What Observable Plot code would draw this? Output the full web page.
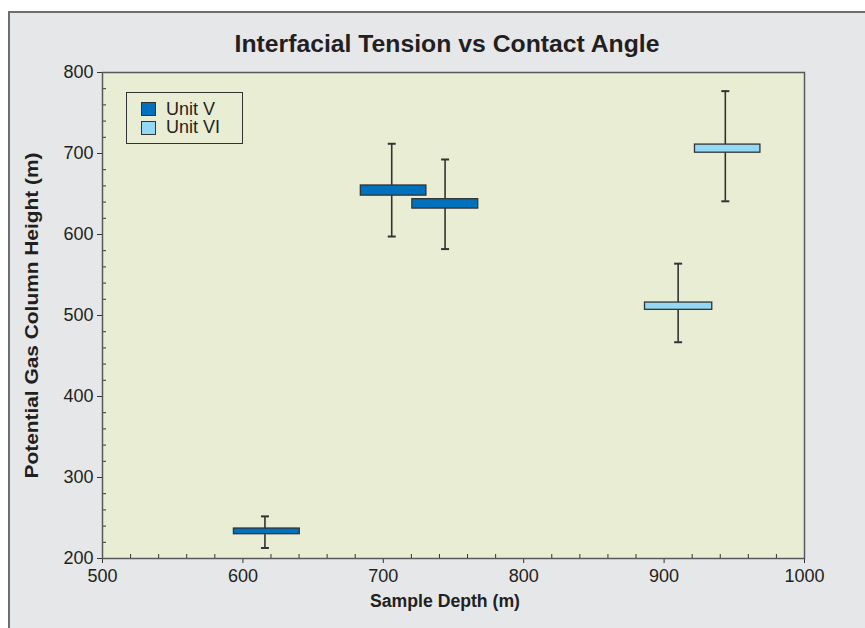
<!DOCTYPE html>
<html>
<head>
<meta charset="utf-8">
<script src="https://cdn.jsdelivr.net/npm/d3@7"></script>
<script src="https://cdn.jsdelivr.net/npm/@observablehq/plot@0.6"></script>
<style>
  body { margin: 0; background: #fff; }
  #wrap { position: relative; width: 865px; height: 628px; overflow: hidden; }
  #panel { position: absolute; left: 8px; top: 11px; right: -4px; bottom: -4px; background: #e6e7e9; border-left: 2px solid #6d6e71; border-top: 2px solid #6d6e71; }
  #title { position: absolute; left: 0; width: 865px; top: 31px; height: 30px; }
  #titleText { position: absolute; left: 447px; top: 0; white-space: nowrap; font: bold 23px "Liberation Sans", Arial, sans-serif; color: #231f20; transform-origin: 0 0; }
  #chart { position: absolute; left: 0; top: 0; }
  #legend { position: absolute; box-sizing: border-box; left: 126px; top: 92px; width: 117px; height: 52px; border: 1.5px solid #333; background: #e9edd4; font: 18px "Liberation Sans", Arial, sans-serif; color: #231f20; }
  .sw { position: absolute; box-sizing: border-box; left: 13.5px; width: 15px; height: 14px; border: 1.2px solid #333; }
  .lbl { position: absolute; left: 39px; line-height: 18px; white-space: nowrap; }
</style>
</head>
<body>
<div id="wrap">
  <div id="panel"></div>
  <div id="title"><span id="titleText"></span></div>
  <div id="chart"></div>
  <div id="legend"></div>
</div>
<script>
// ---- data ----
const units      = ["Unit V", "Unit V", "Unit V", "Unit VI", "Unit VI"];
const depthMin   = [593.6, 684.0, 720.7, 886.4, 922.0];
const depthMax   = [640.5, 730.7, 767.6, 934.3, 968.6];
const depthMid   = [615.7, 706.0, 744.0, 910.0, 943.6];
const boxLow     = [230.0, 648.0, 632.0, 507.0, 701.0];
const boxHigh    = [237.0, 660.5, 643.6, 516.0, 711.0];
const errLow     = [213.0, 597.5, 582.0, 467.0, 641.0];
const errHigh    = [252.0, 712.0, 692.6, 564.0, 777.0];

const seriesNames  = ["Unit V", "Unit VI"];
const seriesColors = ["#0071bc", "#93d8f5"];
const xTicks = [500, 600, 700, 800, 900, 1000];
const yTicks = [200, 300, 400, 500, 600, 700, 800];
const xMinor = d3.range(500, 1001, 20).filter(v => !xTicks.includes(v));
const yMinor = d3.range(200, 801, 20).filter(v => !yTicks.includes(v));
const titleText = "Interfacial Tension vs Contact Angle";
const xLabel = "Sample Depth (m)";
const yLabel = "Potential Gas Column Height (m)";

const rows = units.map((u, i) => ({
  unit: u, x1: depthMin[i], x2: depthMax[i], xm: depthMid[i],
  y1: boxLow[i], y2: boxHigh[i], e1: errLow[i], e2: errHigh[i]
}));

const capSymbol = {
  draw(ctx, size) {
    const w = Math.sqrt(size);
    ctx.moveTo(-w / 2, 0);
    ctx.lineTo(w / 2, 0);
  }
};

const font = '"Liberation Sans", Arial, sans-serif';

const chart = Plot.plot({
  width: 865,
  height: 628,
  marginLeft: 102,
  marginRight: 61,
  marginTop: 72,
  marginBottom: 70,
  x: { domain: [500, 1000] },
  y: { domain: [200, 800] },
  color: { domain: seriesNames, range: seriesColors },
  style: { background: "none", fontFamily: font, fontSize: "18px", color: "#231f20", overflow: "visible" },
  marks: [
    Plot.frame({ fill: "#e9edd4" }),
    Plot.axisX({ ticks: xMinor, tickSize: -4, text: null, label: null, stroke: "#333" }),
    Plot.axisY({ ticks: yMinor, tickSize: -4, text: null, label: null, stroke: "#333" }),
    Plot.axisX({ ticks: xTicks, tickSize: 5, tickPadding: 6, tickFormat: d => String(d), label: null, stroke: "#333", fill: "#231f20", fontSize: 18, fontFamily: font }),
    Plot.axisY({ ticks: yTicks, tickSize: 5, tickPadding: 4, tickFormat: d => String(d), label: null, stroke: "#333", fill: "#231f20", fontSize: 18, fontFamily: font }),
    Plot.frame({ stroke: "#58595b", strokeWidth: 1.5 }),
    Plot.ruleX(rows, { x: "xm", y1: "e1", y2: "e2", stroke: "#333", strokeWidth: 1.6 }),
    Plot.dot(rows, { x: "xm", y: "e1", symbol: capSymbol, r: 4.5, stroke: "#333", fill: "none", strokeWidth: 2 }),
    Plot.dot(rows, { x: "xm", y: "e2", symbol: capSymbol, r: 4.5, stroke: "#333", fill: "none", strokeWidth: 2 }),
    Plot.rect(rows, { x1: "x1", x2: "x2", y1: "y1", y2: "y2", fill: "unit", stroke: "#333", strokeWidth: 1.3 }),
    Plot.text([xLabel], { frameAnchor: "bottom", text: d => d, dx: -8.5, dy: 48, fontWeight: "bold", fontSize: 18, fontFamily: font, fill: "#231f20" }),
    Plot.text([yLabel], { frameAnchor: "left", text: d => d, dx: -70, rotate: -90, textAnchor: "middle", fontWeight: "bold", fontSize: 18, fontFamily: font, fill: "#231f20" })
  ]
});
document.getElementById("chart").appendChild(chart);

// condense the bold axis titles to match the narrow typeface of the reference
d3.select(chart).selectAll("text").each(function () {
  const t = this.textContent;
  if (t === xLabel) { this.setAttribute("textLength", 150); this.setAttribute("lengthAdjust", "spacingAndGlyphs"); }
  if (t === yLabel) { this.setAttribute("textLength", 326); this.setAttribute("lengthAdjust", "spacingAndGlyphs"); }
});

const tEl = document.getElementById("titleText");
tEl.textContent = titleText;
const tw = tEl.getBoundingClientRect().width;
const sx = 425 / tw;
tEl.style.transform = `translateX(${-425 / 2}px) scaleX(${sx})`;

const legend = document.getElementById("legend");
seriesNames.forEach((name, i) => {
  const sw = document.createElement("div");
  sw.className = "sw";
  sw.style.top = (8.5 + i * 19.5) + "px";
  sw.style.background = seriesColors[i];
  const lbl = document.createElement("div");
  lbl.className = "lbl";
  lbl.style.top = (6.5 + i * 18.7) + "px";
  lbl.textContent = name;
  legend.appendChild(sw);
  legend.appendChild(lbl);
});
</script>
</body>
</html>
